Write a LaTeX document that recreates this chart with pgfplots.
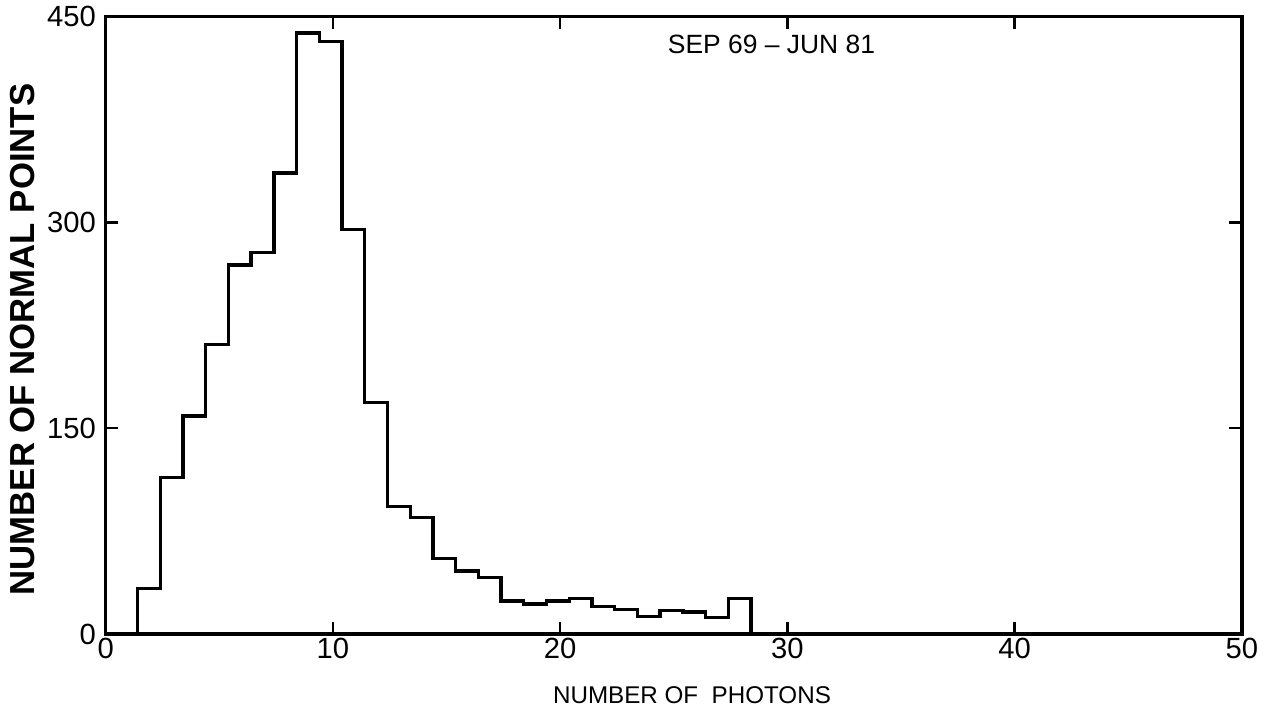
\documentclass[border=0pt]{standalone}
\usepackage{fontspec}
\setmainfont{Liberation Sans}
\usepackage{pgfplots}
\pgfplotsset{compat=1.18}
\begin{document}
\begin{tikzpicture}
\path[use as bounding box] (-38pt,-32pt) rectangle (422.3pt,228pt);
\begin{axis}[
  at={(0,0)}, anchor=south west,
  scale only axis, width=408.6pt, height=222pt,
  xmin=0, xmax=50, ymin=0, ymax=450,
  xtick={0,10,...,50}, ytick={0,150,300,450},
  tick align=inside, major tick length=4.5pt,
  tick style={black, line width=0.9pt},
  axis line style={line width=1.3pt},
  tick label style={font=\fontsize{10.5}{12}\selectfont},
  /pgf/number format/assume math mode=true,
  xticklabel style={yshift=2pt},
  xlabel={NUMBER OF\ \ PHOTONS},
  ylabel={NUMBER OF NORMAL POINTS},
  xlabel style={font=\fontsize{8.7}{10}\selectfont, at={(axis description cs:0.516,0)}, anchor=center, yshift=-22pt},
  ylabel style={font=\bfseries\fontsize{12.5}{14}\selectfont, at={(axis description cs:-0.0734,0.477)}, anchor=center},
  clip=false,
]
\addplot[black, line width=1.2pt, const plot mark left, line join=miter] coordinates {
(1.4,0)(1.4,33)(2.4,114)(3.4,159)(4.4,211)(5.4,269)(6.4,278)(7.4,336)(8.4,438)(9.4,432)(10.4,295)(11.4,169)(12.4,93)(13.4,85)(14.4,55)(15.4,46)(16.4,41)(17.4,24)(18.4,22)(19.4,24)(20.4,26)(21.4,20)(22.4,18)(23.4,13)(24.4,17)(25.4,16)(26.4,12)(27.4,26)(28.4,26)(28.4,0)};
\node[font=\fontsize{9.5}{11}\selectfont] at (axis cs:29.3,430) {SEP 69 -- JUN 81};
\end{axis}
\end{tikzpicture}
\end{document}
